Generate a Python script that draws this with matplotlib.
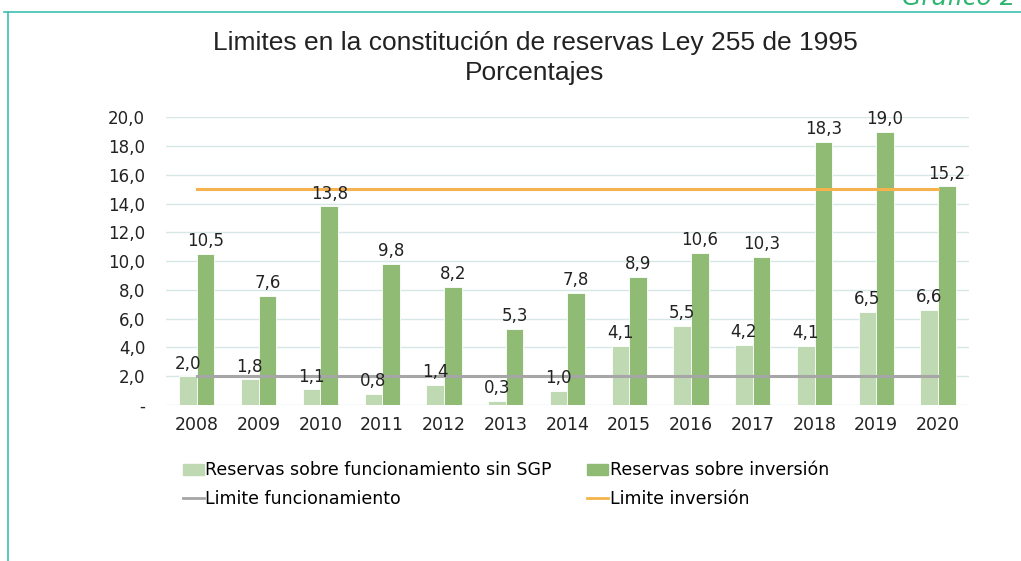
import matplotlib.pyplot as plt
import numpy as np
from matplotlib.lines import Line2D
from matplotlib.patches import Patch

years = ["2008", "2009", "2010", "2011", "2012", "2013", "2014",
         "2015", "2016", "2017", "2018", "2019", "2020"]
reserva_func = [2.0, 1.8, 1.1, 0.8, 1.4, 0.3, 1.0, 4.1, 5.5, 4.2, 4.1, 6.5, 6.6]
reserva_inv = [10.5, 7.6, 13.8, 9.8, 8.2, 5.3, 7.8, 8.9, 10.6, 10.3, 18.3, 19.0, 15.2]
limite_func = [2.0] * 13
limite_inv = [15.0] * 13
yticks = [0, 2, 4, 6, 8, 10, 12, 14, 16, 18, 20]

LIGHT = "#bfd9b3"
DARK = "#8fbb74"
GRAY = "#a6a6a6"
ORANGE = "#f6b24c"
TEAL = "#3cc0b0"
TXT = "#222222"

plt.rcParams["font.family"] = ["DejaVu Sans"]
title_font = ["Liberation Sans Narrow", "Liberation Sans", "DejaVu Sans"]

fig = plt.figure(figsize=(10.21, 5.61), dpi=100)
ax = fig.add_axes([0.1626, 0.278, 0.7864, 0.513])

x = np.arange(len(years))
w = 0.285
ax.bar(x - w / 2, reserva_func, w, color=LIGHT, edgecolor="white",
       linewidth=0.6, zorder=2)
ax.bar(x + w / 2, reserva_inv, w, color=DARK, edgecolor="white",
       linewidth=0.6, zorder=2)
ax.plot(x, limite_func, color=GRAY, lw=2.2, zorder=3)
ax.plot(x, limite_inv, color=ORANGE, lw=2.2, zorder=3)

# value labels, decimal comma
for xi, v in zip(x, reserva_func):
    ax.text(xi - w / 2, v + 0.25, f"{v:.1f}".replace(".", ","), ha="center",
            va="bottom", fontsize=12, color=TXT, zorder=4)
for xi, v in zip(x, reserva_inv):
    ax.text(xi + w / 2, v + 0.25, f"{v:.1f}".replace(".", ","), ha="center",
            va="bottom", fontsize=12, color=TXT, zorder=4)

ax.set_xlim(-0.5, len(years) - 0.5)
ax.set_ylim(0, 20)
ax.set_yticks(yticks)
ax.set_yticklabels(["-" if t == 0 else f"{t:.1f}".replace(".", ",") for t in yticks])
ax.set_xticks(x)
ax.set_xticklabels(years)
ax.tick_params(axis="both", length=0, colors=TXT)
ax.tick_params(axis="y", pad=15, labelsize=12)
ax.tick_params(axis="x", pad=8, labelsize=12.5)
ax.grid(axis="y", color="#d7e7e6", lw=1, zorder=0)
ax.set_axisbelow(True)
for s in ax.spines.values():
    s.set_visible(False)

leg_kw = dict(loc="upper left", frameon=False, fontsize=12.5, handlelength=1.2,
              handletextpad=0.1, labelspacing=0.62, handleheight=0.6,
              borderpad=0, borderaxespad=0)
leg1 = fig.legend([Patch(color=LIGHT), Line2D([], [], color=GRAY, lw=2)],
                  ["Reservas sobre funcionamiento sin SGP", "Limite funcionamiento"],
                  bbox_to_anchor=(0.179, 0.178), **leg_kw)
fig.legend([Patch(color=DARK), Line2D([], [], color=ORANGE, lw=2)],
           ["Reservas sobre inversión", "Limite inversión"],
           bbox_to_anchor=(0.575, 0.178), **leg_kw)

fig.text(0.524, 0.923, "Limites en la constitución de reservas Ley 255 de 1995",
         ha="center", va="center", fontsize=19, color=TXT, family=title_font)
fig.text(0.524, 0.870, "Porcentajes", ha="center", va="center", fontsize=19,
         color=TXT, family=title_font)
fig.text(0.995, 0.983, "Gráfico 2", ha="right", va="bottom", fontsize=18,
         style="italic", color="#2fb56f")

# frame lines of the page
fig.add_artist(Line2D([0.004, 1.0], [0.978, 0.978], color=TEAL, lw=1.2,
                      transform=fig.transFigure))
fig.add_artist(Line2D([0.008, 0.008], [0.0, 0.978], color=TEAL, lw=1.2,
                      transform=fig.transFigure))

fig.savefig("out.png", dpi=100)
